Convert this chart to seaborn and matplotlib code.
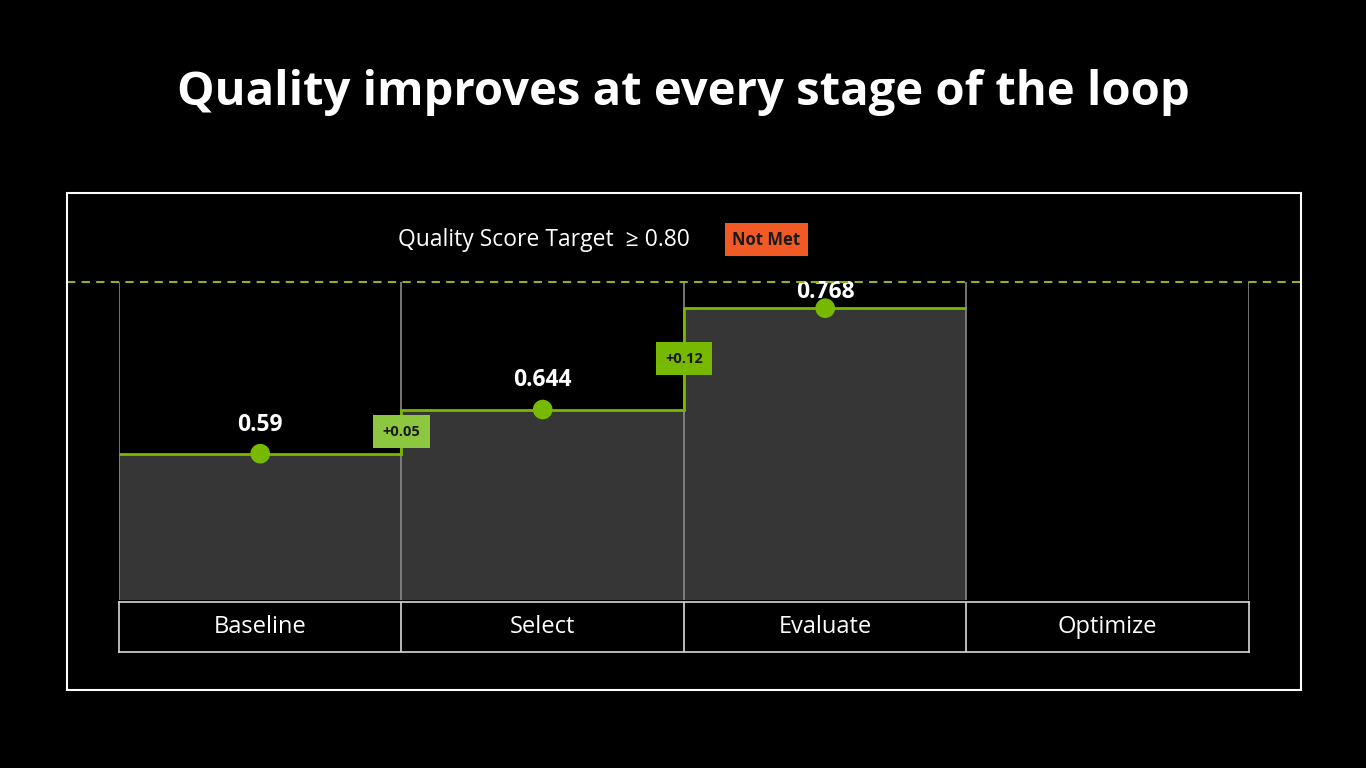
import pandas as pd
import numpy as np
import matplotlib.pyplot as plt
import seaborn as sns
from matplotlib.patches import Rectangle

# Datos
stages = ['Baseline', 'Select', 'Evaluate', 'Optimize']
scores = [0.59, 0.644, 0.768]
deltas = ['+0.05', '+0.12']
delta_colors = ['#8DC63F', '#76B900']
target = 0.80

GREEN = '#76B900'
BAR = '#363636'

sns.set_style('dark')
plt.rcParams['font.family'] = ['Open Sans', 'DejaVu Sans']

fig = plt.figure(figsize=(13.66, 7.68), dpi=100, facecolor='black')

# Título
fig.text(0.5, 0.879, 'Quality improves at every stage of the loop', ha='center', va='center',
         color='white', fontsize=34, fontweight='bold')

# Marco exterior
fig.add_artist(Rectangle((0.049, 0.1016), 0.9034, 0.6471, transform=fig.transFigure,
                         fill=False, edgecolor='white', linewidth=1.5))

# Texto del objetivo y badge
fig.text(0.2914, 0.688, 'Quality Score Target  \u2265 0.80', ha='left', va='center',
         color='white', fontsize=16.5)
fig.text(0.5611, 0.688, 'Not Met', ha='center', va='center', color='#1a1a1a',
         fontsize=12, fontweight='bold',
         bbox=dict(boxstyle='square,pad=0.45', facecolor='#F15A24', edgecolor='none'))

# Gráfico principal
ax = fig.add_axes([0.0871, 0.2188, 0.8272, 0.4179])
ax.set_facecolor('black')
df = pd.DataFrame({'stage': stages[:3], 'score': scores})
sns.barplot(data=df, x='stage', y='score', order=stages, color=BAR, width=1,
            errorbar=None, ax=ax, saturation=1, linewidth=0)
ax.set_xlim(-0.5, 3.5)
ax.set_ylim(0.411, 0.8037)

# columnas
ax.vlines(np.arange(-0.5, 4, 1), 0.411, target, color='#8a8a8a', linewidth=1.2, zorder=1)

# línea escalonada
ax.stairs(scores, edges=np.arange(-0.5, len(scores), 1), baseline=None,
          color=GREEN, linewidth=2, zorder=3)
sns.scatterplot(x=np.arange(len(scores)), y=scores, s=200, color=GREEN,
                edgecolor='none', ax=ax, zorder=4, legend=False)
label_offsets = [21, 21, 12]
for i, v in enumerate(scores):
    ax.annotate(f'{v:g}', (i, v), xytext=(0, label_offsets[i]), textcoords='offset points',
                ha='center', va='center', color='white', fontsize=16.5, fontweight='bold')

# badges de incremento
for i, (d, c) in enumerate(zip(deltas, delta_colors)):
    ymid = (scores[i] + scores[i + 1]) / 2
    ax.text(i + 0.5, ymid, d, ha='center', va='center', color='#1a1a1a',
            fontsize=10.5, fontweight='bold', zorder=5,
            bbox=dict(boxstyle='square,pad=0.65', facecolor=c, edgecolor='none'))

# línea objetivo
ax.axhline(target, xmin=-0.046, xmax=1.046, color='#8DB31F', linestyle=(0, (4, 3)),
           linewidth=1.5, clip_on=False, zorder=6)

ax.set_xticks([])
ax.set_yticks([])
ax.set_xlabel('')
ax.set_ylabel('')
for s in ax.spines.values():
    s.set_visible(False)

# tabla de etapas
tx = fig.add_axes([0.0871, 0.151, 0.8272, 0.0651])
tx.set_facecolor('black')
tx.set_xlim(-0.5, 3.5)
tx.set_ylim(0, 1)
for xb in np.arange(0.5, 3.5, 1):
    tx.axvline(xb, color='#d8d8d8', linewidth=1.2)
for i, s in enumerate(stages):
    tx.text(i, 0.5, s, ha='center', va='center', color='white', fontsize=17)
tx.set_xticks([])
tx.set_yticks([])
for s in tx.spines.values():
    s.set_color('#d8d8d8')
    s.set_linewidth(1.2)

plt.savefig('out.png', dpi=100, facecolor='black')
